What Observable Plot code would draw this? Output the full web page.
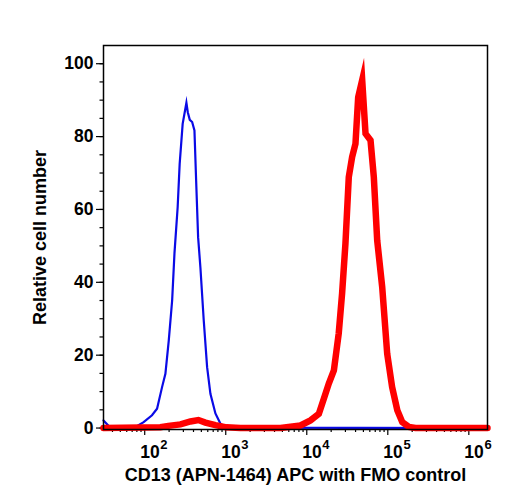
<!DOCTYPE html>
<html>
<head>
<meta charset="utf-8">
<script src="https://cdn.jsdelivr.net/npm/d3@7"></script>
<script src="https://cdn.jsdelivr.net/npm/@observablehq/plot@0.6"></script>
<style>
  body { margin: 0; background: #fff; }
  #chart svg { display: block; }
</style>
</head>
<body>
<div id="chart"></div>
<script>
// FMO control histogram (blue): fluorescence intensity vs relative cell number
const fmoIntensity = [31, 38, 77, 97, 123, 142, 164, 180, 198, 218, 233, 255, 270, 294, 327, 340, 360, 385, 411, 431, 456, 487, 535, 589, 647, 746, 861, 992, 1700000];
const fmoCount     = [2.1, 0, 0.3, 1.6, 3.5, 5.3, 11.3, 14.9, 24, 35, 48, 60.6, 72.5, 83.5, 89.3, 86.7, 84.6, 84, 81.7, 68, 52.4, 44, 29.6, 16.7, 9.4, 4, 1.2, 0.1, 0];

// CD13 stained sample histogram (red)
const sampleIntensity = [31, 156, 196, 276, 367, 460, 561, 746, 1021, 1518, 4730, 8360, 11100, 14100, 16200, 18700, 21600, 24800, 27300, 30000, 33000, 36300, 39900, 43100, 48300, 53100, 61200, 67200, 74000, 85300, 98300, 113000, 131000, 151000, 182000, 220000, 1700000];
const sampleCount     = [0, 0.2, 0.6, 1.0, 1.8, 2.2, 1.5, 0.8, 0.2, 0, 0, 0.7, 2.1, 3.9, 8, 12.2, 15.8, 26, 37, 50.6, 68.9, 74.4, 78, 90.8, 95.5, 80.8, 79, 68.9, 51.5, 38.7, 20.4, 11.3, 4.9, 1.6, 0.3, 0, 0];

// Axis ticks
const yTicks = [0, 20, 40, 60, 80, 100];
const yMinorTicks = d3.range(0, 101, 5);
const xMajorTicks = [1e2, 1e3, 1e4, 1e5, 1e6];
const xTickBase = ["10", "10", "10", "10", "10"];
const xTickExponent = ["2", "3", "4", "5", "6"];
const xDomain = [31, 1.7e6];
const xMinorTicks = d3.range(1, 7).flatMap(e => d3.range(2, 10).map(m => m * 10 ** e))
  .filter(v => v > xDomain[0] && v < xDomain[1]);

const xTitle = "CD13 (APN-1464) APC with FMO control";
const yTitle = "Relative cell number";

const fmo = fmoIntensity.map((x, i) => ({x, y: fmoCount[i]}));
const sample = sampleIntensity.map((x, i) => ({x, y: sampleCount[i]}));

const font = "'Liberation Sans', Arial, Helvetica, sans-serif";

const chart = Plot.plot({
  width: 508,
  height: 500,
  marginLeft: 103,
  marginRight: 21,
  marginTop: 45,
  marginBottom: 71,
  style: {fontFamily: font, fontWeight: "bold", color: "#000", background: "#fff"},
  x: {type: "log", domain: xDomain},
  y: {domain: [-0.4, 105]},
  marks: [
    // y axis: minor then major ticks
    Plot.axisY({ticks: yMinorTicks, tickSize: 3.5, text: null, label: null, strokeWidth: 1.2}),
    Plot.axisY({ticks: yTicks, tickSize: 7, tickPadding: 3, label: null, fontSize: 17.5, fontWeight: "bold", strokeWidth: 1.2}),
    // x axis: minor then major ticks
    Plot.axisX({ticks: xMinorTicks, tickSize: 3, text: null, label: null, strokeWidth: 1.2}),
    Plot.axisX({ticks: xMajorTicks, tickSize: 6, text: null, label: null, strokeWidth: 1.2}),
    // tick labels as 10 with a raised exponent
    Plot.text(xMajorTicks, {x: d => d, text: (d, i) => xTickBase[i], frameAnchor: "bottom", textAnchor: "start", lineAnchor: "bottom", dx: -4.5, dy: 28.7, fontSize: 17.5, fontWeight: "bold", fill: "#000"}),
    Plot.text(xMajorTicks, {x: d => d, text: (d, i) => xTickExponent[i], frameAnchor: "bottom", textAnchor: "start", lineAnchor: "bottom", dx: 15.6, dy: 19.4, fontSize: 13, fontWeight: "bold", fill: "#000"}),
    // axis titles
    Plot.text([xTitle], {text: d => d, frameAnchor: "bottom", textAnchor: "middle", lineAnchor: "bottom", dy: 51, fontSize: 18, fontWeight: "bold", fill: "#000"}),
    Plot.text([yTitle], {text: d => d, frameAnchor: "left", textAnchor: "middle", rotate: -90, lineAnchor: "bottom", dx: -58, fontSize: 18, fontWeight: "bold", fill: "#000"}),
    // histograms
    Plot.line(fmo, {x: "x", y: "y", stroke: "#0a0ae6", strokeWidth: 2.2, strokeLinejoin: "miter", strokeMiterlimit: 10}),
    Plot.line(sample, {x: "x", y: "y", stroke: "#ff0000", strokeWidth: 6.5, strokeLinejoin: "miter", strokeMiterlimit: 10}),
    Plot.frame({stroke: "#000", strokeWidth: 1.5})
  ]
});

document.getElementById("chart").append(chart);
</script>
</body>
</html>
